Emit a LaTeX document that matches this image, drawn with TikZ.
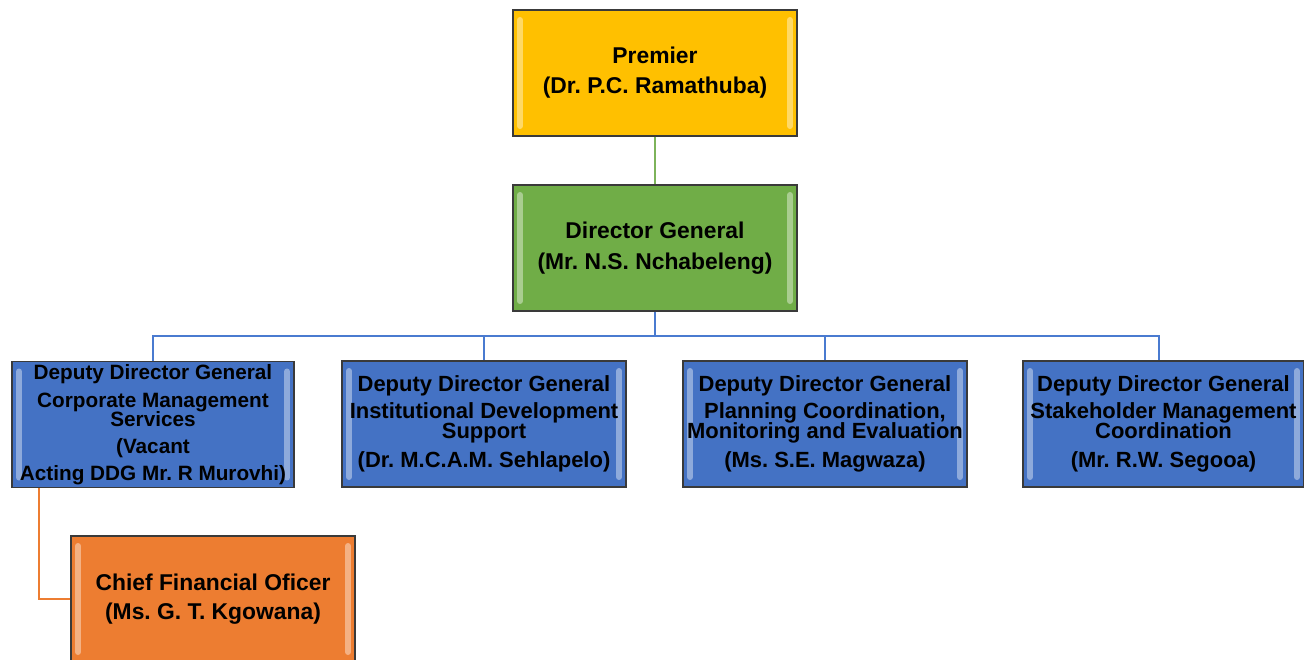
\documentclass[tikz,border=0pt]{standalone}
\usepackage{fontspec}
\setmainfont{Liberation Sans}
\frenchspacing
\newcommand\tightlines{\lineskiplimit=-6pt\relax}
\definecolor{premiercol}{HTML}{FFC000}
\definecolor{dgcol}{HTML}{70AD47}
\definecolor{ddgcol}{HTML}{4472C4}
\definecolor{cfocol}{HTML}{ED7D31}
\definecolor{boxline}{HTML}{3A3A3A}
\definecolor{dglink}{HTML}{7DB35A}
\definecolor{ddglink}{HTML}{4A7BD0}
\begin{document}
\begin{tikzpicture}[
	post/.style={draw=boxline, line width=0.03cm, minimum width=5.68cm, minimum height=2.52cm,
		inner sep=0pt, align=center,
		path picture={
			\draw[white, opacity=0.4, line width=0.12cm, line cap=round]
				([xshift=0.14cm,yshift=-0.2cm]path picture bounding box.north west) --
				([xshift=0.14cm,yshift=0.2cm]path picture bounding box.south west);
			\draw[white, opacity=0.4, line width=0.12cm, line cap=round]
				([xshift=-0.14cm,yshift=-0.2cm]path picture bounding box.north east) --
				([xshift=-0.14cm,yshift=0.2cm]path picture bounding box.south east);
		}},
	bigtext/.style={font=\fontsize{13}{17}\selectfont\bfseries},
	smalltext/.style={font=\fontsize{12.5}{11.5}\selectfont\bfseries\tightlines},
	link/.style={line width=0.04cm},
]
	\useasboundingbox (0,0) rectangle (26.08,13.18);

	\node[post, bigtext, fill=premiercol] (premier) at (13.1,11.72) {Premier\\(Dr. P.C. Ramathuba)};
	\node[post, font=\fontsize{13}{18}\selectfont\bfseries, fill=dgcol] (dg) at (13.1,8.22) {Director General\\(Mr. N.S. Nchabeleng)};

	\node[post, minimum width=5.64cm, font=\fontsize{11.8}{11}\selectfont\bfseries\tightlines, fill=ddgcol] (ddgcms) at (3.06,4.69)
		{Deputy Director General\\[4.9pt]Corporate Management\\Services\\[4.3pt](Vacant\\[4.3pt]Acting DDG Mr. R Murovhi)};
	\node[post, smalltext, fill=ddgcol] (ddgids) at (9.68,4.70)
		{Deputy Director General\\[3.8pt]Institutional Development\\Support\\[4.9pt](Dr. M.C.A.M. Sehlapelo)};
	\node[post, smalltext, fill=ddgcol] (ddgpcme) at (16.5,4.70)
		{Deputy Director General\\[3.8pt]Planning Coordination,\\Monitoring and Evaluation\\[4.9pt](Ms. S.E. Magwaza)};
	\node[post, minimum width=5.62cm, smalltext, fill=ddgcol] (ddgsmc) at (23.27,4.70)
		{Deputy Director General\\[3.8pt]Stakeholder Management\\Coordination\\[4.9pt](Mr. R.W. Segooa)};

	\node[post, font=\fontsize{13}{16.4}\selectfont\bfseries, fill=cfocol] (cfo) at (4.26,1.2) {Chief Financial Oficer\\(Ms. G. T. Kgowana)};

	\draw[link, dglink] (premier) -- (dg);
	\draw[link, ddglink] (dg.south) -- ++(0,-0.48) -| (ddgcms.north);
	\draw[link, ddglink] (dg.south) -- ++(0,-0.48) -| (ddgids.north);
	\draw[link, ddglink] (dg.south) -- ++(0,-0.48) -| (ddgpcme.north);
	\draw[link, ddglink] (dg.south) -- ++(0,-0.48) -| ([xshift=-0.1cm]ddgsmc.north);
	\draw[link, cfocol] ([xshift=0.56cm]ddgcms.south west) |- (cfo.west);
\end{tikzpicture}
\end{document}
